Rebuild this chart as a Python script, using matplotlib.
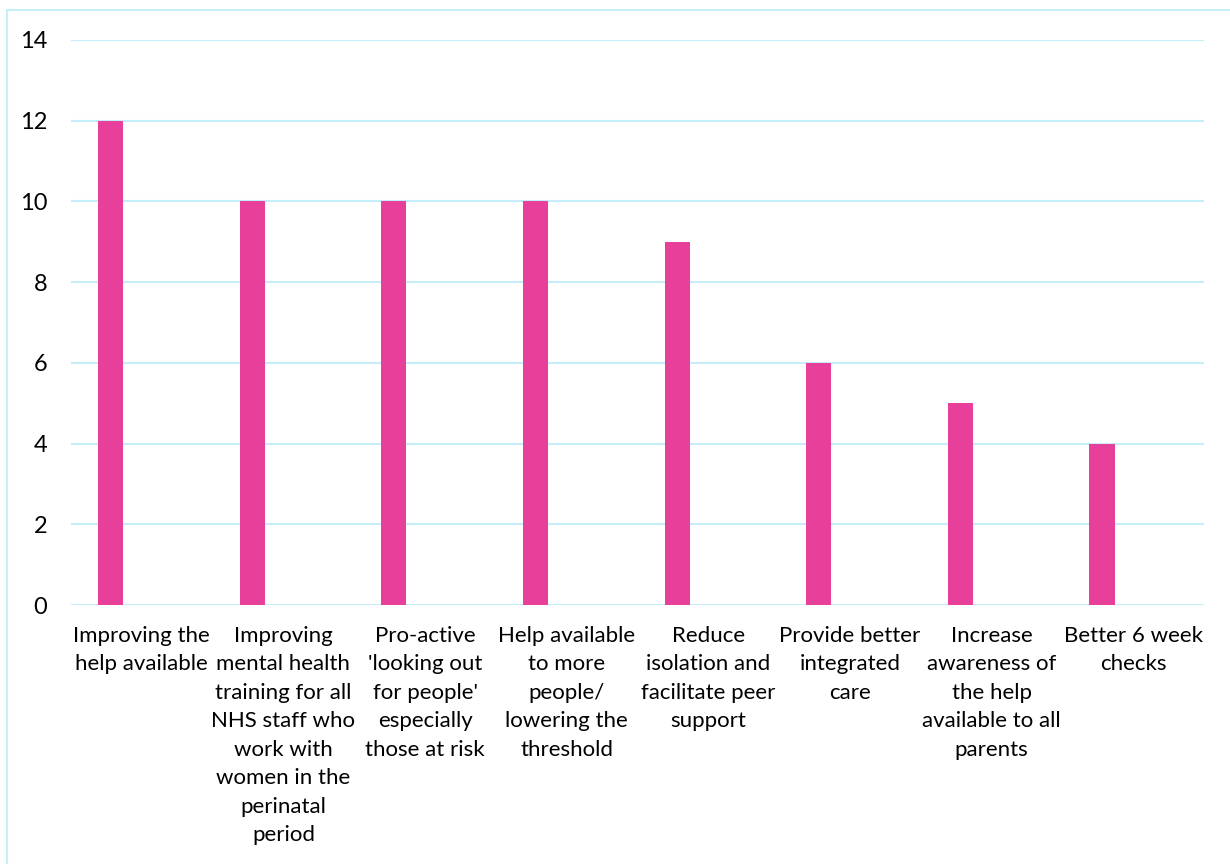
import numpy as np
import matplotlib.pyplot as plt
from matplotlib.patches import Rectangle

plt.rcParams['font.family'] = ['Lato', 'DejaVu Sans']

categories = [
    "Improving the\nhelp available",
    "Improving\nmental health\ntraining for all\nNHS staff who\nwork with\nwomen in the\nperinatal\nperiod",
    "Pro-active\n'looking out\nfor people'\nespecially\nthose at risk",
    "Help available\nto more\npeople/\nlowering the\nthreshold",
    "Reduce\nisolation and\nfacilitate peer\nsupport",
    "Provide better\nintegrated\ncare",
    "Increase\nawareness of\nthe help\navailable to all\nparents",
    "Better 6 week\nchecks",
]
counts = [12, 10, 10, 10, 9, 6, 5, 4]
yticks = [0, 2, 4, 6, 8, 10, 12, 14]

pink = "#E8409A"
grid_col = "#C6EEFA"

fig = plt.figure(figsize=(12.3, 8.64), dpi=100)
ax = fig.add_axes([71 / 1230, 1 - 605 / 864, (1204 - 71) / 1230, (605 - 40) / 864])

# outer chart border (runs off the right and bottom edges)
fig.patches.append(Rectangle((7 / 1230, -0.1), 1.2, 1 - 10 / 864 + 0.1,
                             transform=fig.transFigure, fill=False,
                             edgecolor=grid_col, linewidth=1.5))

x = np.arange(len(categories))
ax.bar(x - 0.22, counts, width=0.177, color=pink, zorder=3)

ax.set_xlim(-0.5, len(categories) - 0.5)
ax.set_ylim(0, 14)
ax.set_yticks(yticks)
ax.set_yticklabels([str(v) for v in yticks])
ax.set_xticks(x)
ax.set_xticklabels(categories, fontsize=16, linespacing=1.53, va="top")

ax.grid(axis="y", color=grid_col, linewidth=1.5, zorder=0)
for s in ax.spines.values():
    s.set_visible(False)
ax.tick_params(axis="both", length=0, colors="#000000")
ax.tick_params(axis="y", pad=17, labelsize=17)
ax.tick_params(axis="x", pad=15)

fig.savefig("out.png", dpi=100)
